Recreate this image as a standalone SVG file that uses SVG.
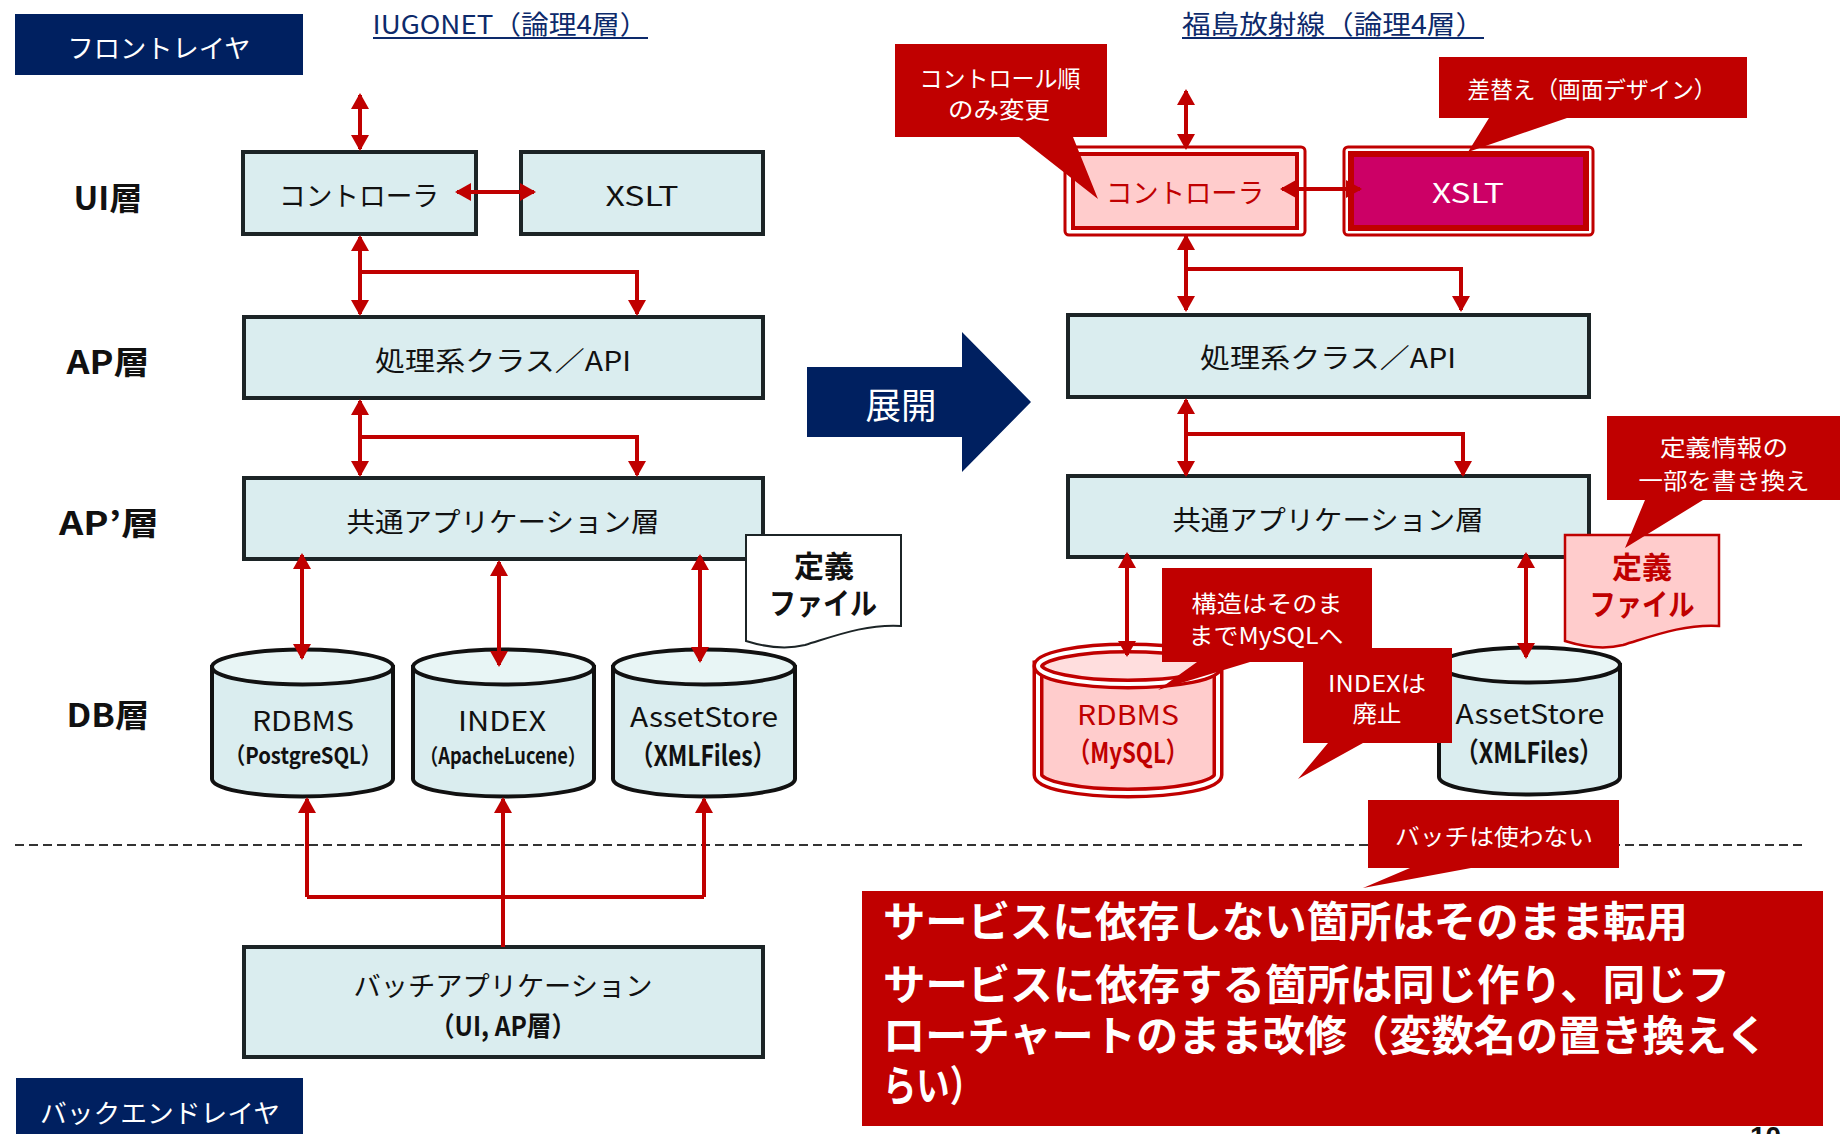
<svg xmlns="http://www.w3.org/2000/svg" width="1840" height="1134" viewBox="0 0 1840 1134">
<style>
.t{font-family:"Noto Sans CJK JP","Noto Sans",sans-serif;text-anchor:middle;dominant-baseline:central;fill:#111}
.w{fill:#fff}
.r{fill:#c00000}
.b{font-weight:bold}
.nv{fill:#002060}
.box{fill:#daedef;stroke:#1c2426;stroke-width:4}
.cyl{fill:#daedef;stroke:#111;stroke-width:4}
.cyltop{fill:#e8f5f5;stroke:#111;stroke-width:4}
.call{fill:#c00000}
.conn{fill:none;stroke:#c00000;stroke-width:4}
.ttl{fill:#0d2a6b}
</style>
<defs>
<marker id="ah" viewBox="0 0 16 18" refX="14" refY="9" markerWidth="16" markerHeight="18" markerUnits="userSpaceOnUse" orient="auto-start-reverse">
<path d="M0,0 L16,9 L0,18 Z" fill="#c00000"/>
</marker>
</defs>
<rect width="1840" height="1134" fill="#fff"/>

<!-- page number (mostly hidden) -->
<text x="1750" y="1146" font-family="Liberation Sans,sans-serif" font-size="28" font-weight="bold" fill="#111">10</text>

<!-- dashed separator -->
<line x1="15" y1="845" x2="1802" y2="845" stroke="#333" stroke-width="2" stroke-dasharray="9 5"/>

<!-- layer labels -->
<g id="front-layer">
<rect x="15" y="14" width="288" height="61" class="nv"/>
<text class="t w" x="159" y="46" font-size="26" textLength="183" lengthAdjust="spacingAndGlyphs">フロントレイヤ</text>
</g>
<g id="back-layer">
<rect x="16" y="1078" width="287" height="60" class="nv"/>
<text class="t w" x="160" y="1111" font-size="26" textLength="240" lengthAdjust="spacingAndGlyphs">バックエンドレイヤ</text>
</g>
<g id="titles">
<text class="t ttl" x="510" y="22" font-size="26" textLength="275" lengthAdjust="spacingAndGlyphs">IUGONET（論理4層）</text>
<line x1="373" y1="38" x2="648" y2="38" stroke="#0d2a6b" stroke-width="2"/>
<text class="t ttl" x="1333" y="22" font-size="26" textLength="302" lengthAdjust="spacingAndGlyphs">福島放射線（論理4層）</text>
<line x1="1182" y1="38" x2="1484" y2="38" stroke="#0d2a6b" stroke-width="2"/>
</g>
<g id="row-labels">
<text class="t b" x="108" y="196" font-size="32" textLength="69" lengthAdjust="spacingAndGlyphs">UI層</text>
<text class="t b" x="108" y="360" font-size="32" textLength="83" lengthAdjust="spacingAndGlyphs">AP層</text>
<text class="t b" x="109" y="521" font-size="32" textLength="100" lengthAdjust="spacingAndGlyphs">AP’層</text>
<text class="t b" x="108" y="713" font-size="32" textLength="83" lengthAdjust="spacingAndGlyphs">DB層</text>
</g>

<!-- left nodes -->
<g id="l-controller">
<rect class="box" x="243" y="152" width="233" height="82"/>
<text class="t" x="359" y="194" font-size="27" textLength="160" lengthAdjust="spacingAndGlyphs">コントローラ</text>
</g>
<g id="l-xslt">
<rect class="box" x="521" y="152" width="242" height="82"/>
<text class="t" x="642" y="194" font-size="27" textLength="73" lengthAdjust="spacingAndGlyphs">XSLT</text>
</g>
<g id="l-ap">
<rect class="box" x="244" y="317" width="519" height="81"/>
<text class="t" x="503" y="359" font-size="27" textLength="256" lengthAdjust="spacingAndGlyphs">処理系クラス／API</text>
</g>
<g id="l-common">
<rect class="box" x="244" y="478" width="519" height="81"/>
<text class="t" x="503" y="520" font-size="27" textLength="313" lengthAdjust="spacingAndGlyphs">共通アプリケーション層</text>
</g>
<g id="l-deffile">
<path d="M746,535 H901 V626 C865,624 835,636 805,645 C785,650 762,646 746,641 Z" fill="#fff" stroke="#1c2426" stroke-width="2"/>
<text class="t b" x="824" y="564" font-size="30">定義</text>
<text class="t b" x="823" y="601" font-size="30" textLength="108" lengthAdjust="spacingAndGlyphs">ファイル</text>
</g>
<g id="l-rdbms">
<path class="cyl" d="M212,667 V779 A90.5,17.5 0 0 0 393,779 V667 Z"/>
<ellipse class="cyltop" cx="302.5" cy="667" rx="90.5" ry="17.5"/>
<text class="t" x="303" y="719" font-size="27" textLength="102" lengthAdjust="spacingAndGlyphs">RDBMS</text>
<text class="t b" x="303" y="754" font-size="23" textLength="156" lengthAdjust="spacingAndGlyphs">（PostgreSQL）</text>
</g>
<g id="l-index">
<path class="cyl" d="M413,667 V779 A90.5,17.5 0 0 0 594,779 V667 Z"/>
<ellipse class="cyltop" cx="503.5" cy="667" rx="90.5" ry="17.5"/>
<text class="t" x="502" y="719" font-size="27" textLength="88" lengthAdjust="spacingAndGlyphs">INDEX</text>
<text class="t b" x="503" y="754" font-size="22" textLength="166" lengthAdjust="spacingAndGlyphs">（ApacheLucene）</text>
</g>
<g id="l-asset">
<path class="cyl" d="M613,667 V779 A91,17.5 0 0 0 795,779 V667 Z"/>
<ellipse class="cyltop" cx="704" cy="667" rx="91" ry="17.5"/>
<text class="t" x="704" y="715" font-size="27" textLength="148" lengthAdjust="spacingAndGlyphs">AssetStore</text>
<text class="t b" x="703" y="754" font-size="28" textLength="145" lengthAdjust="spacingAndGlyphs">（XMLFiles）</text>
</g>
<g id="l-batch">
<rect class="box" x="244" y="947" width="519" height="110"/>
<text class="t" x="503" y="984" font-size="27" textLength="299" lengthAdjust="spacingAndGlyphs">バッチアプリケーション</text>
<text class="t b" x="503" y="1024" font-size="27" textLength="146" lengthAdjust="spacingAndGlyphs">（UI, AP層）</text>
</g>

<!-- expand arrow -->
<g id="expand">
<path d="M807,367 H962 V332 L1031,402 L962,472 V437 H807 Z" class="nv"/>
<text class="t w" x="901" y="403" font-size="36" textLength="71" lengthAdjust="spacingAndGlyphs">展開</text>
</g>

<!-- right nodes -->
<g id="r-controller">
<rect x="1065" y="147" width="240" height="88" rx="4" fill="#fff" stroke="#c00000" stroke-width="3"/>
<rect x="1073" y="154" width="224" height="74" fill="#ffcccc" stroke="#c00000" stroke-width="4"/>
<text class="t r" x="1185" y="191" font-size="27" textLength="158" lengthAdjust="spacingAndGlyphs">コントローラ</text>
</g>
<g id="r-xslt">
<rect x="1344" y="147" width="249" height="88" rx="4" fill="#fff" stroke="#c00000" stroke-width="3"/>
<rect x="1351" y="154" width="235" height="74" fill="#cc0066" stroke="#c00000" stroke-width="6"/>
<text class="t w" x="1468" y="191" font-size="27" textLength="72" lengthAdjust="spacingAndGlyphs">XSLT</text>
</g>
<g id="r-ap">
<rect class="box" x="1068" y="315" width="521" height="82"/>
<text class="t" x="1328" y="356" font-size="27" textLength="256" lengthAdjust="spacingAndGlyphs">処理系クラス／API</text>
</g>
<g id="r-common">
<rect class="box" x="1068" y="476" width="521" height="81"/>
<text class="t" x="1328" y="518" font-size="27" textLength="311" lengthAdjust="spacingAndGlyphs">共通アプリケーション層</text>
</g>
<g id="r-deffile">
<path d="M1565,535 H1719 V626 C1683,624 1653,636 1623,645 C1603,650 1581,646 1565,641 Z" fill="#ffcccc" stroke="#c00000" stroke-width="2.5"/>
<text class="t b r" x="1642" y="565" font-size="30">定義</text>
<text class="t b r" x="1642" y="602" font-size="30" textLength="105" lengthAdjust="spacingAndGlyphs">ファイル</text>
</g>
<g id="r-rdbms">
<path d="M1038,666 V775 A90,18 0 0 0 1218,775 V666 Z" fill="#ffcccc" stroke="#c00000" stroke-width="11"/>
<path d="M1038,666 V775 A90,18 0 0 0 1218,775 V666" fill="none" stroke="#fff" stroke-width="4"/>
<ellipse cx="1128" cy="666" rx="90" ry="18" fill="#ffdede" stroke="#c00000" stroke-width="11"/>
<ellipse cx="1128" cy="666" rx="90" ry="18" fill="none" stroke="#fff" stroke-width="4"/>
<text class="t r" x="1128" y="713" font-size="27" textLength="102" lengthAdjust="spacingAndGlyphs">RDBMS</text>
<text class="t r b" x="1128" y="751" font-size="28" textLength="120" lengthAdjust="spacingAndGlyphs">（MySQL）</text>
</g>
<g id="r-asset">
<path class="cyl" d="M1439,665 V777 A90.5,17.5 0 0 0 1620,777 V665 Z"/>
<ellipse class="cyltop" cx="1529.5" cy="665" rx="90.5" ry="17.5"/>
<text class="t" x="1530" y="712" font-size="27" textLength="149" lengthAdjust="spacingAndGlyphs">AssetStore</text>
<text class="t b" x="1529" y="751" font-size="28" textLength="147" lengthAdjust="spacingAndGlyphs">（XMLFiles）</text>
</g>

<!-- connectors (drawn above nodes so arrowheads overlap the boxes) -->
<g id="connectors">
<path class="conn" d="M360,95 V149" marker-start="url(#ah)" marker-end="url(#ah)"/>
<path class="conn" d="M457,192 H534" marker-start="url(#ah)" marker-end="url(#ah)"/>
<path class="conn" d="M360,237 V314" marker-start="url(#ah)" marker-end="url(#ah)"/>
<path class="conn" d="M360,272 H637 V314" marker-end="url(#ah)"/>
<path class="conn" d="M360,401 V475" marker-start="url(#ah)" marker-end="url(#ah)"/>
<path class="conn" d="M360,437 H637 V475" marker-end="url(#ah)"/>
<path class="conn" d="M302,555 V658" marker-start="url(#ah)" marker-end="url(#ah)"/>
<path class="conn" d="M499,562 V665" marker-start="url(#ah)" marker-end="url(#ah)"/>
<path class="conn" d="M700,556 V661" marker-start="url(#ah)" marker-end="url(#ah)"/>
<path class="conn" d="M307,897 V799" marker-end="url(#ah)"/>
<path class="conn" d="M704,897 V799" marker-end="url(#ah)"/>
<path class="conn" d="M307,897 H704"/>
<path class="conn" d="M503,947 V799" marker-end="url(#ah)"/>
<path class="conn" d="M1186,91 V148" marker-start="url(#ah)" marker-end="url(#ah)"/>
<path class="conn" d="M1282,189 H1360" marker-start="url(#ah)" marker-end="url(#ah)"/>
<path class="conn" d="M1186,236 V310" marker-start="url(#ah)" marker-end="url(#ah)"/>
<path class="conn" d="M1186,269 H1461 V310" marker-end="url(#ah)"/>
<path class="conn" d="M1186,400 V475" marker-start="url(#ah)" marker-end="url(#ah)"/>
<path class="conn" d="M1186,434 H1463 V475" marker-end="url(#ah)"/>
<path class="conn" d="M1127,554 V655" marker-start="url(#ah)" marker-end="url(#ah)"/>
<path class="conn" d="M1526,554 V657" marker-start="url(#ah)" marker-end="url(#ah)"/>
</g>

<!-- callouts -->
<g id="c-controlorder">
<path class="call" d="M895,44 H1107 V137 H1073 L1098,199 L1019,137 H895 Z"/>
<text class="t w" x="1000" y="77" font-size="23" textLength="161" lengthAdjust="spacingAndGlyphs">コントロール順</text>
<text class="t w" x="999" y="108" font-size="23" textLength="102" lengthAdjust="spacingAndGlyphs">のみ変更</text>
</g>
<g id="c-replace">
<path class="call" d="M1439,57 H1747 V118 H1567 L1468,152 L1489,118 H1439 Z"/>
<text class="t w" x="1592" y="88" font-size="23" textLength="249" lengthAdjust="spacingAndGlyphs">差替え（画面デザイン）</text>
</g>
<g id="c-definfo">
<path class="call" d="M1607,416 H1840 V500 H1703 L1625,548 L1645,500 H1607 Z"/>
<text class="t w" x="1724" y="446" font-size="23" textLength="128" lengthAdjust="spacingAndGlyphs">定義情報の</text>
<text class="t w" x="1724" y="479" font-size="23" textLength="171" lengthAdjust="spacingAndGlyphs">一部を書き換え</text>
</g>
<g id="c-structure">
<path class="call" d="M1162,568 H1372 V662 H1250 L1158,690 L1197,662 H1162 Z"/>
<text class="t w" x="1267" y="602" font-size="23" textLength="151" lengthAdjust="spacingAndGlyphs">構造はそのま</text>
<text class="t w" x="1266" y="634" font-size="23" textLength="155" lengthAdjust="spacingAndGlyphs">までMySQLへ</text>
</g>
<g id="c-index">
<path class="call" d="M1303,648 H1452 V743 H1363 L1298,779 L1328,743 H1303 Z"/>
<text class="t w" x="1377" y="682" font-size="23" textLength="98" lengthAdjust="spacingAndGlyphs">INDEXは</text>
<text class="t w" x="1377" y="712" font-size="23" textLength="49" lengthAdjust="spacingAndGlyphs">廃止</text>
</g>
<g id="c-batch">
<path class="call" d="M1368,800 H1619 V868 H1471 L1363,888 L1410,868 H1368 Z"/>
<text class="t w" x="1494" y="835" font-size="23" textLength="198" lengthAdjust="spacingAndGlyphs">バッチは使わない</text>
</g>

<!-- summary box -->
<g id="summary">
<rect x="862" y="891" width="961" height="235" fill="#c00000"/>
<text class="w b" x="883" y="918" font-family="Noto Sans CJK JP,sans-serif" font-size="42" dominant-baseline="central" textLength="805" lengthAdjust="spacingAndGlyphs">サービスに依存しない箇所はそのまま転用</text>
<text class="w b" x="883" y="981" font-family="Noto Sans CJK JP,sans-serif" font-size="42" dominant-baseline="central" textLength="847" lengthAdjust="spacingAndGlyphs">サービスに依存する箇所は同じ作り、同じフ</text>
<text class="w b" x="883" y="1032" font-family="Noto Sans CJK JP,sans-serif" font-size="42" dominant-baseline="central" textLength="885" lengthAdjust="spacingAndGlyphs">ローチャートのまま改修（変数名の置き換えく</text>
<text class="w b" x="883" y="1082" font-family="Noto Sans CJK JP,sans-serif" font-size="42" dominant-baseline="central" textLength="100" lengthAdjust="spacingAndGlyphs">らい）</text>
</g>
</svg>
